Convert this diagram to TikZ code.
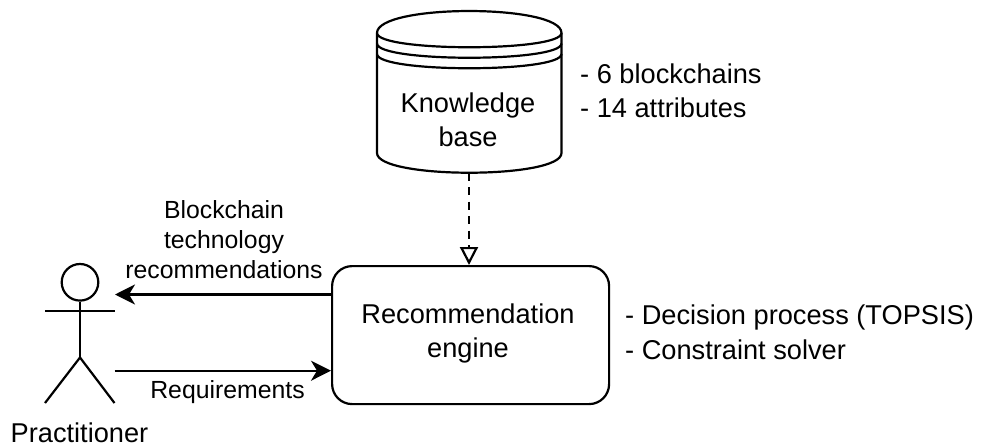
\documentclass[tikz,border=0pt]{standalone}
\usepackage{fontspec}
\setmainfont{Liberation Sans}
\usetikzlibrary{arrows.meta}
\tikzset{
  ln/.style={line width=2.2pt,black},
  big/.style={font=\fontsize{27.2}{34}\selectfont,align=center,inner sep=0pt},
  lbl/.style={font=\fontsize{24.8}{30}\selectfont,align=center,inner sep=0pt},
  lst/.style={font=\fontsize{27.2}{34.5}\selectfont,align=left,inner sep=0pt,anchor=west},
  filled/.style={-{Stealth[length=20pt,width=20pt,inset=6pt]}},
  hollow/.style={-{Triangle[open,length=18pt,width=18pt]},dash pattern=on 8pt off 6.5pt},
}
\begin{document}
\begin{tikzpicture}[x=1pt,y=-1pt]
\useasboundingbox (0,0) rectangle (981,446);
% knowledge base
\draw[ln,fill=white] (377,33) .. controls (377,3.7) and (561.5,3.7) .. (561.5,33) -- (561.5,153)
  .. controls (561.5,179.3) and (377,179.3) .. (377,153) -- cycle;
\draw[ln] (377,33) .. controls (377,52) and (561.5,52) .. (561.5,33);
\draw[ln] (377,43.5) .. controls (377,62.5) and (561.5,62.5) .. (561.5,43.5);
\draw[ln] (377,54) .. controls (377,73) and (561.5,73) .. (561.5,54);
\coordinate (kbb) at (469,172.7);
\node[big] (kb) at (468,120) {Knowledge\\base};
\node[lst] (kbl) at (580,91) {- 6 blockchains\\- 14 attributes};
% engine
\node[draw,ln,rounded corners=20pt,minimum width=277pt,minimum height=138pt,inner sep=0pt,anchor=north west] (re) at (331,265) {};
\node[big] at (468,333.5) {Recommendation\\engine};
\node[lst] (rel) at (625,332.5) {- Decision process (TOPSIS)\\- Constraint solver};
% actor
\node[draw,ln,circle,minimum size=36.6pt,inner sep=0pt] (head) at (80,282.3) {};
\coordinate (hip) at (80,357.5);
\coordinate (la) at (45,311);
\coordinate (ra) at (114.5,311);
\coordinate (ll) at (45,403);
\coordinate (rl) at (114.5,403);
\draw[ln] (head.south) -- (hip);
\draw[ln] (la) -- (ra);
\draw[ln] (ll) -- (hip) -- (rl);
\node[big] (pr) at (79.5,432.5) {Practitioner};
% connectors
\coordinate (rec) at (115,294.5);
\coordinate (req) at (114.5,370.7);
\draw[ln,filled] (re.west |- rec) -- (rec);
\draw[ln,filled] (req) -- (re.west |- req);
\draw[ln,hollow] (kbb) -- (kbb |- re.north);
\node[lbl] (l1) at (224,240) {Blockchain\\technology\\recommendations};
\node[lbl] (l2) at (227.5,392) {Requirements};
\end{tikzpicture}
\end{document}
